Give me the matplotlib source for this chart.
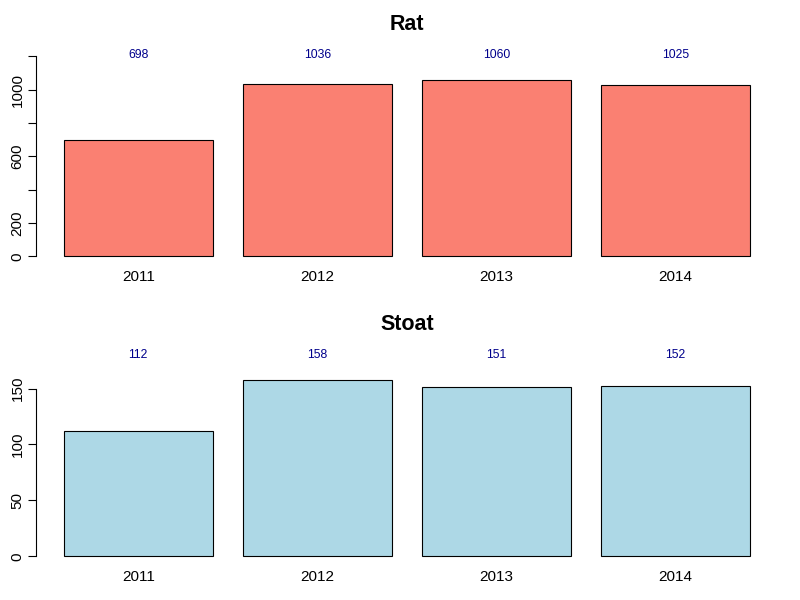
import matplotlib
matplotlib.use("Agg")
import matplotlib.pyplot as plt

plt.rcParams['font.family'] = ['Liberation Sans', 'DejaVu Sans']

# counts per year
years = ['2011', '2012', '2013', '2014']
rat = [698, 1036, 1060, 1025]
stoat = [112, 158, 151, 152]

rat_ticks = [0, 200, 400, 600, 800, 1000, 1200]
rat_ticklabels = ['0', '200', '', '600', '', '1000', '']
stoat_ticks = [0, 50, 100, 150]
stoat_ticklabels = ['0', '50', '100', '150']

fig = plt.figure(figsize=(8, 6), dpi=100)

# R-style barplot geometry: width 1, space 0.2
centers = [0.7 + 1.2 * i for i in range(len(years))]


def panel(ax, values, color, title, ticks, ticklabels):
    top = 1.2 * max(values)
    ax.bar(centers, values, width=1.0, color=color, edgecolor='black', linewidth=0.8)
    ax.set_xlim(0.016, 4.984)
    ax.set_ylim(-0.04 * top, 1.04 * top)
    for c, v in zip(centers, values):
        ax.text(c, 1.15 * max(values), str(v), ha='center', va='center_baseline',
                color='#00008B', fontsize=8.8)
    for s in ['top', 'right', 'bottom']:
        ax.spines[s].set_visible(False)
    ax.spines['left'].set_bounds(ticks[0], ticks[-1])
    ax.spines['left'].set_linewidth(0.8)
    ax.set_yticks(ticks)
    ax.set_yticklabels(ticklabels, rotation=90, va='center')
    ax.tick_params(axis='y', length=5.5, width=0.8, pad=3, labelsize=11)
    ax.set_xticks(centers)
    ax.set_xticklabels(years)
    ax.tick_params(axis='x', length=0, pad=4, labelsize=11)
    ax.set_title(title, fontsize=15.5, fontweight='bold', pad=4.5)


ax1 = fig.add_axes([36.2 / 800, 1 - 264.8 / 600, (777.6 - 36.2) / 800, 229 / 600])
panel(ax1, rat, '#FA8072', 'Rat', rat_ticks, rat_ticklabels)

ax2 = fig.add_axes([36.2 / 800, 1 - 564.8 / 600, (777.6 - 36.2) / 800, 229 / 600])
panel(ax2, stoat, '#ADD8E6', 'Stoat', stoat_ticks, stoat_ticklabels)

fig.savefig('out.png', dpi=100)
